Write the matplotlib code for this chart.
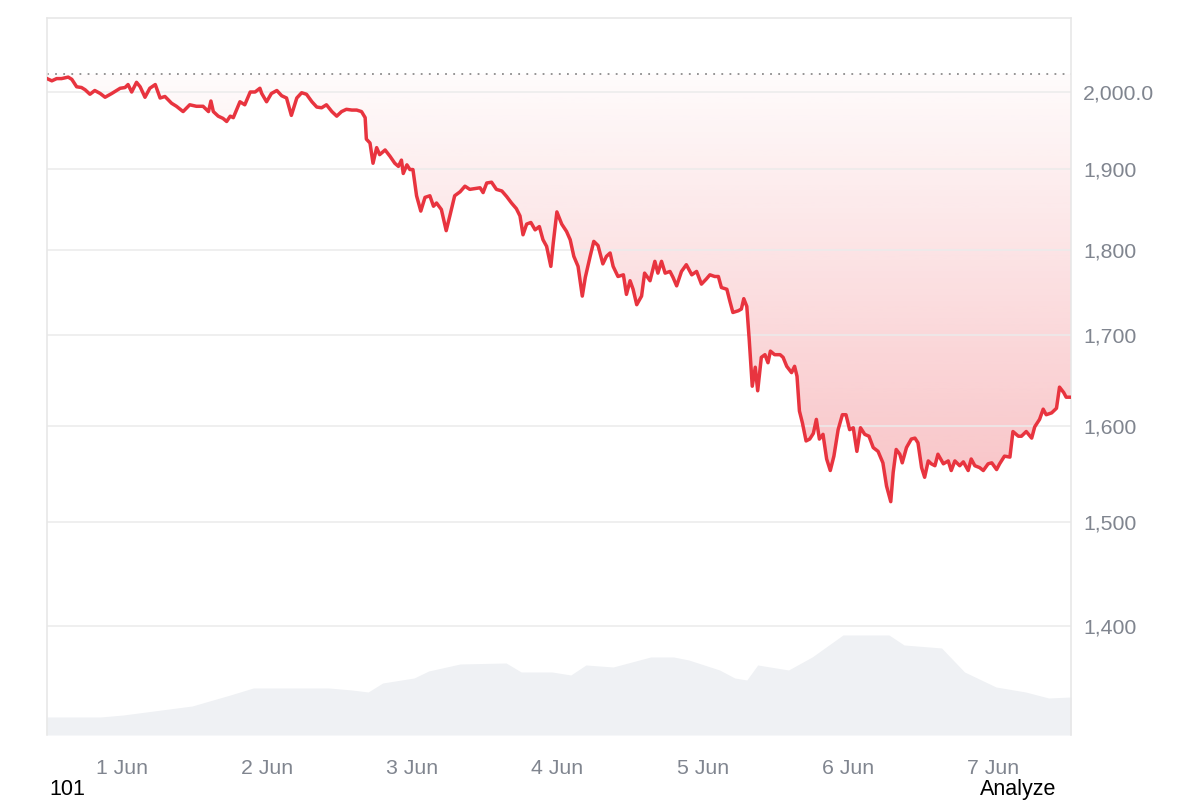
import numpy as np
import matplotlib.pyplot as plt
from matplotlib.ticker import FixedLocator, FixedFormatter, NullLocator

plt.rcParams['font.family'] = ['Liberation Sans', 'DejaVu Sans']

# price, hours counted from 31 May 00:00
hours = [11.6, 12.4, 13.2, 14.0, 15.1, 15.7, 16.5, 17.3, 17.9, 18.7,
         19.5, 20.4, 21.2, 22.3, 23.7, 24.5, 25.0, 25.6, 26.4, 27.0,
         27.8, 28.6, 29.5, 30.3, 31.1, 32.2, 33.0, 34.1, 35.2, 36.3,
         37.4, 38.3, 38.7, 39.1, 39.9, 40.7, 41.3, 41.9, 42.4, 43.5,
         44.3, 45.2, 46.0, 46.8, 47.1, 47.9, 48.7, 49.6, 50.4, 51.2,
         52.0, 52.9, 53.7, 54.5, 55.4, 56.2, 57.0, 57.8, 58.7, 59.5,
         60.3, 61.1, 62.0, 62.8, 63.6, 64.2, 64.4, 65.0, 65.5, 66.1,
         66.6, 67.5, 68.3, 69.1, 69.7, 70.2, 70.5, 71.1, 71.6, 72.1,
         72.7, 73.4, 74.1, 74.9, 75.5, 76.0, 76.8, 77.6, 78.2, 79.0,
         79.9, 80.7, 81.5, 82.3, 83.2, 83.7, 84.3, 85.1, 85.9, 86.8,
         87.6, 88.4, 89.2, 89.8, 90.3, 90.9, 91.6, 92.3, 93.0, 93.6,
         94.2, 94.9, 95.3, 95.9, 96.7, 97.5, 98.1, 98.7, 99.4, 100.1,
         100.6, 101.4, 102.0, 102.7, 103.5, 104.1, 104.7, 105.2, 106.0, 106.9,
         107.4, 108.0, 108.5, 109.1, 109.9, 110.4, 111.3, 112.1, 112.6, 113.2,
         113.8, 114.6, 115.1, 115.7, 116.5, 117.3, 118.2, 119.0, 119.8, 120.6,
         121.2, 122.0, 122.6, 123.1, 124.0, 124.5, 125.0, 125.9, 126.4, 126.8,
         127.3, 127.7, 128.2, 128.7, 129.1, 129.7, 130.3, 130.8, 131.2, 131.9,
         132.8, 133.3, 133.9, 134.7, 135.2, 135.6, 136.0, 136.5, 137.1, 137.7,
         138.3, 138.8, 139.3, 139.9, 140.5, 141.1, 141.7, 142.4, 143.1, 143.7,
         144.3, 144.9, 145.5, 146.1, 146.8, 147.5, 148.2, 149.0, 149.8, 150.4,
         151.1, 151.5, 152.0, 152.6, 153.0, 153.7, 154.5, 155.1, 155.6, 156.2,
         156.7, 157.3, 157.8, 158.4, 158.9, 159.8, 160.6, 161.1, 161.7, 162.5,
         163.1, 163.9, 164.4, 165.0, 165.8, 166.4, 167.2, 167.8, 168.6, 169.1,
         169.9, 170.8, 171.3, 172.2, 172.7, 173.5, 174.4, 174.9, 175.7, 176.3,
         176.8, 177.7, 178.5, 179.0, 179.7, 180.1, 180.9]
price = [2018, 2015, 2018, 2018, 2020, 2017, 2007, 2006, 2003, 1997,
         2002, 1998, 1993, 1998, 2005, 2006, 2010, 2000, 2013, 2007,
         1993, 2005, 2010, 1992, 1994, 1985, 1981, 1974, 1983, 1981,
         1981, 1974, 1988, 1974, 1968, 1965, 1961, 1968, 1966, 1987,
         1983, 2000, 2000, 2005, 1998, 1987, 1998, 2002, 1995, 1992,
         1969, 1992, 1999, 1997, 1987, 1980, 1979, 1983, 1974, 1968,
         1974, 1977, 1976, 1976, 1974, 1966, 1938, 1933, 1907, 1927,
         1918, 1924, 1916, 1907, 1903, 1911, 1894, 1905, 1899, 1899,
         1866, 1847, 1864, 1866, 1853, 1857, 1849, 1823, 1841, 1866,
         1871, 1878, 1874, 1875, 1876, 1870, 1882, 1883, 1874, 1872,
         1865, 1857, 1850, 1841, 1818, 1831, 1833, 1824, 1828, 1812,
         1804, 1780, 1808, 1846, 1831, 1822, 1812, 1792, 1780, 1745,
         1767, 1792, 1810, 1805, 1783, 1792, 1796, 1780, 1768, 1770,
         1747, 1763, 1753, 1735, 1745, 1772, 1763, 1786, 1772, 1786,
         1772, 1774, 1767, 1757, 1774, 1782, 1770, 1774, 1759, 1765,
         1770, 1768, 1768, 1755, 1753, 1739, 1726, 1728, 1730, 1742,
         1733, 1695, 1643, 1664, 1638, 1675, 1678, 1669, 1682, 1678,
         1678, 1675, 1665, 1658, 1665, 1654, 1616, 1603, 1584, 1586,
         1592, 1607, 1586, 1591, 1565, 1553, 1568, 1596, 1612, 1612,
         1596, 1598, 1573, 1598, 1591, 1589, 1577, 1573, 1561, 1537,
         1521, 1551, 1575, 1570, 1561, 1577, 1586, 1587, 1582, 1556,
         1546, 1563, 1560, 1558, 1570, 1560, 1563, 1553, 1563, 1558,
         1562, 1553, 1565, 1558, 1556, 1553, 1560, 1561, 1554, 1560,
         1568, 1567, 1594, 1589, 1589, 1594, 1587, 1599, 1607, 1618,
         1612, 1614, 1619, 1642, 1636, 1631, 1631]

# traded volume (billions), same time base
vol_hours = [11.6, 20.4, 24.2, 28.0, 35.6, 41.9, 45.7, 48.1, 58.2, 62.0,
             64.7, 67.1, 72.3, 74.7, 79.9, 87.5, 90.0, 95.1, 98.2, 100.7,
             105.2, 111.4, 115.2, 117.7, 122.8, 125.3, 127.3, 129.1, 134.2, 138.1,
             143.2, 150.8, 153.3, 159.5, 163.3, 168.5, 173.4, 177.2, 180.9]
volume = [3.6, 3.6, 4.0, 4.6, 5.8, 8.0, 9.4, 9.4, 9.4, 9.0,
          8.6, 10.4, 11.4, 12.8, 14.2, 14.4, 12.6, 12.6, 12.0, 14.0,
          13.6, 15.6, 15.6, 15.0, 13.0, 11.4, 11.0, 14.0, 13.0, 15.6,
          20.0, 20.0, 18.0, 17.4, 12.6, 9.6, 8.6, 7.4, 7.6]

ref_price = 2024
yticks = [1400, 1500, 1600, 1700, 1800, 1900, 2000]
ytick_labels = ["1,400", "1,500", "1,600", "1,700", "1,800", "1,900", "2,000.0"]
day_ticks = [24, 48, 72, 96, 120, 144, 168]
day_labels = ["1 Jun", "2 Jun", "3 Jun", "4 Jun", "5 Jun", "6 Jun", "7 Jun"]

red = '#e8343f'
grey_txt = '#80858f'

fig = plt.figure(figsize=(12, 8), dpi=100)
ax = fig.add_axes([0.03917, 0.08125, 0.85333, 0.89625])
ax2 = ax.twinx()

# volume in the background
ax2.fill_between(vol_hours, 0, volume, color='#eff1f4', lw=0)
ax2.set_ylim(0, max(volume) / 0.1395)
ax2.set_axis_off()
ax.set_zorder(ax2.get_zorder() + 1)
ax.patch.set_visible(False)

ax.set_yscale('log')

# gradient between the opening level and the price
poly = ax.fill_between(hours, price, ref_price, color='none', lw=0)
f = np.linspace(0, 1, 400)
alpha = np.clip(0.02 + 0.483 * (0.922 - f), 0, 0.34)
grad = np.zeros((400, 1, 4))
grad[:, 0, :3] = (0xea / 255, 0x39 / 255, 0x43 / 255)
grad[:, 0, 3] = alpha
img = ax.imshow(grad, extent=[0, 1, 0, 1], transform=ax.transAxes,
                aspect='auto', origin='lower', zorder=1)
img.set_clip_path(poly.get_paths()[0], ax.transData)

ax.plot(hours, price, color=red, lw=2.5, zorder=3, solid_joinstyle='round')
ax.axhline(ref_price, color='#8c8c8c', lw=1.3, ls=(0, (1, 3.5)), zorder=2)

ax.set_xlim(11.6, 180.9)
ax.set_ylim(1301.4, 2101.4)

ax.yaxis.set_major_locator(FixedLocator(yticks))
ax.yaxis.set_major_formatter(FixedFormatter(ytick_labels))
ax.yaxis.set_minor_locator(NullLocator())
ax.yaxis.tick_right()
ax.tick_params(axis='y', length=0, pad=8.6, labelsize=15.3, labelcolor=grey_txt)
ax.grid(axis='y', color='#ebebeb', lw=1.1, zorder=0)

ax.set_xticks(day_ticks)
ax.set_xticklabels(day_labels)
ax.tick_params(axis='x', length=0, pad=17, labelsize=15.3, labelcolor=grey_txt)

for s in ['left', 'top', 'right']:
    ax.spines[s].set_color('#e6e6e6')
    ax.spines[s].set_linewidth(1.1)
ax.spines['bottom'].set_visible(False)

fig.text(49 / 1200, 5 / 800, "101", fontsize=15.5, color='black', va='baseline')
fig.text(980 / 1200, 5 / 800, "Analyze", fontsize=15.5, color='black', va='baseline')

fig.savefig('out.png', dpi=100)
